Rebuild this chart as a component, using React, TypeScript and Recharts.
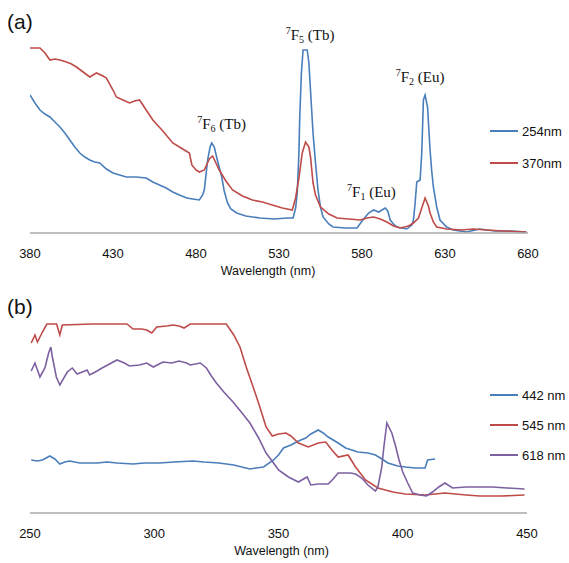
import { LineChart, Line, XAxis, YAxis, Legend, ReferenceDot } from "recharts";

// (a) emission spectra, x = wavelength (nm), y = intensity (a.u.)
const emissionTicks = [380, 430, 480, 530, 580, 630, 680];

const em254: [number, number][] = [
  [380, 138], [383, 130], [386, 123], [389, 119], [392, 116], [395, 111], [398, 106], [401, 100],
  [404, 93], [407, 86], [410, 80], [413, 76], [416, 73], [419, 71], [422, 70], [426, 64], [430, 60],
  [434, 58], [438, 56], [444, 56], [450, 55], [454, 51], [458, 48], [462, 45], [466, 41], [470, 38],
  [474.5, 35], [478, 34], [482, 33], [484, 38], [485, 43], [486, 58], [487, 73], [488.5, 86],
  [489.5, 90], [491, 86], [493, 72], [495.5, 56], [497, 42], [499, 30], [501, 24], [504.5, 20],
  [510, 17], [518.5, 15], [527, 14], [535, 15], [538.5, 15], [540, 25], [541, 40], [542, 80],
  [542.5, 116], [543.5, 160], [544.5, 183], [547, 183], [548, 170], [548.5, 156], [549.5, 128],
  [550.5, 100], [552, 70], [553.5, 43], [555, 26], [556.5, 16], [560, 9], [562.5, 6], [570, 5],
  [577, 5], [580.5, 13], [584, 20], [587, 23], [590, 21], [594, 25], [595.5, 22], [597, 13],
  [599, 9], [601, 6], [607, 4], [610, 8], [611, 13], [612, 30], [613, 51], [615, 53], [616, 80],
  [617, 133], [618, 138], [619.5, 126], [621, 83], [622, 62], [623, 46], [625, 26], [627, 13],
  [631, 6], [635, 3], [643, 1], [651, 4], [660, 2], [670, 2], [679, 1],
];

const em370: [number, number][] = [
  [380, 185], [386, 185], [389, 180], [392, 173], [395, 174], [398, 173], [402, 171], [405, 169],
  [408, 166], [412, 161], [416, 156], [420, 160], [424, 157], [426, 155], [430, 143], [432, 136],
  [436, 133], [440, 130], [443, 132], [446, 133], [450, 123], [454, 113], [460, 102], [466, 90],
  [471, 85], [476, 80], [477.5, 68], [480, 63], [482, 61], [485, 63], [488, 74], [490, 77],
  [492, 70], [494, 63], [498, 52], [502, 43], [508, 37], [514, 33], [520, 31], [526, 28],
  [532, 25], [538, 23], [540, 35], [542, 55], [544, 80], [546, 91], [548, 86], [549, 76],
  [550.5, 50], [552, 38], [555, 26], [560, 19], [565, 15], [572, 14], [579, 13], [583, 15],
  [587, 16], [591, 14], [595, 11], [599, 7], [603, 5], [608, 7], [611, 10], [614, 15], [616, 25],
  [618, 35], [620, 27], [621, 20], [623, 11], [625, 6], [631, 4], [640, 3], [647, 4], [655, 3],
  [665, 2], [679, 1],
];

// peak labels: [x, y, superscript, letter, subscript, rest]
const peakLabels: [number, number, string, string, string, string][] = [
  [495.4, 104, "7", "F", "6", " (Tb)"],
  [548.7, 193, "7", "F", "5", " (Tb)"],
  [585.7, 36, "7", "F", "1", " (Eu)"],
  [615, 151, "7", "F", "2", " (Eu)"],
];

// (b) excitation spectra
const excitationTicks = [250, 300, 350, 400, 450];

const ex442: [number, number][] = [
  [250.5, 53], [253, 52], [255, 53], [258, 57], [260, 54], [262, 49], [264, 51], [266, 52],
  [270, 50], [277, 50], [281, 51], [285, 50], [291.5, 49], [296, 50], [302, 50], [308, 51],
  [315.6, 52], [320, 51], [326, 50], [332, 48], [338.5, 44], [341, 45], [344, 46], [348, 53],
  [350, 58], [352, 65], [355, 68], [358, 72], [361, 75], [363, 79], [366, 83], [368, 80],
  [370, 76], [374, 70], [377, 65], [382, 61], [386, 60], [389, 58], [391, 55], [394, 50],
  [398, 47], [401, 46], [405, 45], [409, 45], [410, 53], [413, 54],
];

const ex545: [number, number][] = [
  [250.5, 170], [252, 178], [253, 171], [255, 181], [256.8, 189], [260.7, 189], [262, 178],
  [263, 188], [275, 189], [289, 189], [291.5, 184], [295, 184], [297, 183], [299, 180],
  [301, 186], [305, 187], [307.6, 188], [310, 187], [312, 185], [314.5, 189], [329, 189],
  [332, 178], [334.5, 166], [337, 146], [339.8, 126], [342.5, 106], [345, 86], [347.5, 77],
  [350, 79], [353, 80], [355, 77], [358, 70], [362, 66], [366, 70], [369, 71], [371.5, 63],
  [374, 56], [378, 58], [381, 46], [385, 33], [390, 25], [396, 21], [401, 19], [409, 18],
  [417, 20], [425.5, 18], [431, 17], [440, 17], [449, 18],
];

const ex618: [number, number][] = [
  [250.5, 142], [252, 150], [254, 136], [256, 145], [257.5, 160], [258.4, 166], [259, 156],
  [260.6, 136], [262, 128], [265, 141], [267, 145], [269, 139], [271, 141], [273, 143],
  [274, 138], [277, 142], [279, 145], [282, 149], [285, 153], [288, 150], [290, 147],
  [294, 148], [297, 150], [299.6, 146], [303.5, 151], [307, 150], [310, 152], [313, 150],
  [314.5, 148], [318.5, 150], [321, 145], [323, 137], [325, 130], [328, 121], [331.7, 111],
  [335, 101], [338.5, 90], [342, 75], [345, 60], [348, 50], [350, 43], [354, 36], [358, 31],
  [361.5, 36], [363, 28], [366, 29], [370, 29], [372, 34], [374, 40], [379, 40], [381, 39],
  [383.5, 35], [386, 28], [389, 22], [390, 26], [391.5, 45], [392.4, 66], [393.6, 90],
  [395.6, 80], [397, 68], [398.5, 53], [400, 41], [402, 30], [404, 20], [407, 18], [409.5, 17],
  [412, 21], [414.5, 26], [417, 30], [420, 25], [425.5, 26], [430, 26], [436, 26], [442, 25],
  [449, 24],
];

const BLUE = "#4a7ebb";
const RED = "#be4b48";
const PURPLE = "#7d60a0";
const SANS = "'Liberation Sans', Arial, sans-serif";
const SERIF = "'Liberation Serif', 'Times New Roman', serif";

const toPts = (arr: [number, number][]) => arr.map(([x, y]) => ({ x, y }));

function LegendBox({ payload, rowH }: any) {
  return (
    <div style={{ fontFamily: SANS, fontSize: 13, color: "#111" }}>
      {(payload || []).map((p: any) => (
        <div key={p.value} style={{ height: rowH, display: "flex", alignItems: "center" }}>
          <svg width={30} height={4} style={{ marginRight: 2 }}>
            <line x1={0} y1={2} x2={28} y2={2} stroke={p.color} strokeWidth={2} />
          </svg>
          <span>{p.value}</span>
        </div>
      ))}
    </div>
  );
}

function PeakLabel({ cx, cy, sup, letter, sub, rest }: any) {
  return (
    <text x={cx} y={cy} textAnchor="middle" fontFamily={SERIF} fontSize={15} fill="#111">
      <tspan fontSize={10} dy={-6}>{sup}</tspan>
      <tspan dy={6}>{letter}</tspan>
      <tspan fontSize={10} dy={3}>{sub}</tspan>
      <tspan dy={-3}>{rest}</tspan>
    </text>
  );
}

const axisTick = { fontFamily: SANS, fontSize: 13, fill: "#111" };

export default function App() {
  return (
    <div style={{ position: "absolute", left: 0, top: 0, width: 569, height: 563, background: "#fff" }}>
      <div style={{ position: "absolute", left: 7, top: 10, fontFamily: SANS, fontSize: 21, color: "#111" }}>(a)</div>
      <div style={{ position: "absolute", left: 7, top: 295, fontFamily: SANS, fontSize: 21, color: "#111" }}>(b)</div>

      <div style={{ position: "absolute", left: 0, top: 0 }}>
        <LineChart width={569} height={280} margin={{ top: 43, right: 41, left: 30, bottom: 17 }}>
          <XAxis
            type="number"
            dataKey="x"
            domain={[380, 680]}
            ticks={emissionTicks}
            allowDataOverflow
            tickLine={false}
            tickSize={0}
            tickMargin={16}
            stroke="#aaaaaa"
            strokeWidth={1.5}
            height={30}
            tick={axisTick}
            label={{ value: "Wavelength (nm)", position: "bottom", offset: 3, dx: -11, style: { fontFamily: SANS, fontSize: 12.5, fill: "#111" } }}
          />
          <YAxis type="number" domain={[0, 190]} allowDataOverflow hide />
          <Legend
            layout="vertical"
            align="center"
            verticalAlign="middle"
            wrapperStyle={{ position: "absolute", left: 490, top: 115, width: 80 }}
            content={(props: any) => <LegendBox {...props} rowH={32} />}
          />
          <Line data={toPts(em254)} dataKey="y" name="254nm" stroke={BLUE} strokeWidth={1.6} dot={false} isAnimationActive={false} />
          <Line data={toPts(em370)} dataKey="y" name="370nm" stroke={RED} strokeWidth={1.6} dot={false} isAnimationActive={false} />
          {peakLabels.map(([x, y, sup, letter, sub, rest]) => (
            <ReferenceDot
              key={sub}
              x={x}
              y={y}
              r={0}
              ifOverflow="visible"
              shape={(p: any) => <PeakLabel cx={p.cx} cy={p.cy} sup={sup} letter={letter} sub={sub} rest={rest} />}
            />
          ))}
        </LineChart>
      </div>

      <div style={{ position: "absolute", left: 0, top: 280 }}>
        <LineChart width={569} height={283} margin={{ top: 39, right: 42, left: 30, bottom: 20 }}>
          <XAxis
            type="number"
            dataKey="x"
            domain={[250, 450]}
            ticks={excitationTicks}
            allowDataOverflow
            tickLine={false}
            tickSize={0}
            tickMargin={16}
            stroke="#aaaaaa"
            strokeWidth={1.5}
            height={30}
            tick={axisTick}
            label={{ value: "Wavelength (nm)", position: "bottom", offset: 3, dx: 3, style: { fontFamily: SANS, fontSize: 12.5, fill: "#111" } }}
          />
          <YAxis type="number" domain={[0, 194]} allowDataOverflow hide />
          <Legend
            layout="vertical"
            align="center"
            verticalAlign="middle"
            wrapperStyle={{ position: "absolute", left: 490, top: 100, width: 80 }}
            content={(props: any) => <LegendBox {...props} rowH={30} />}
          />
          <Line data={toPts(ex442)} dataKey="y" name="442 nm" stroke={BLUE} strokeWidth={1.6} dot={false} isAnimationActive={false} />
          <Line data={toPts(ex545)} dataKey="y" name="545 nm" stroke={RED} strokeWidth={1.6} dot={false} isAnimationActive={false} />
          <Line data={toPts(ex618)} dataKey="y" name="618 nm" stroke={PURPLE} strokeWidth={1.6} dot={false} isAnimationActive={false} />
        </LineChart>
      </div>
    </div>
  );
}
